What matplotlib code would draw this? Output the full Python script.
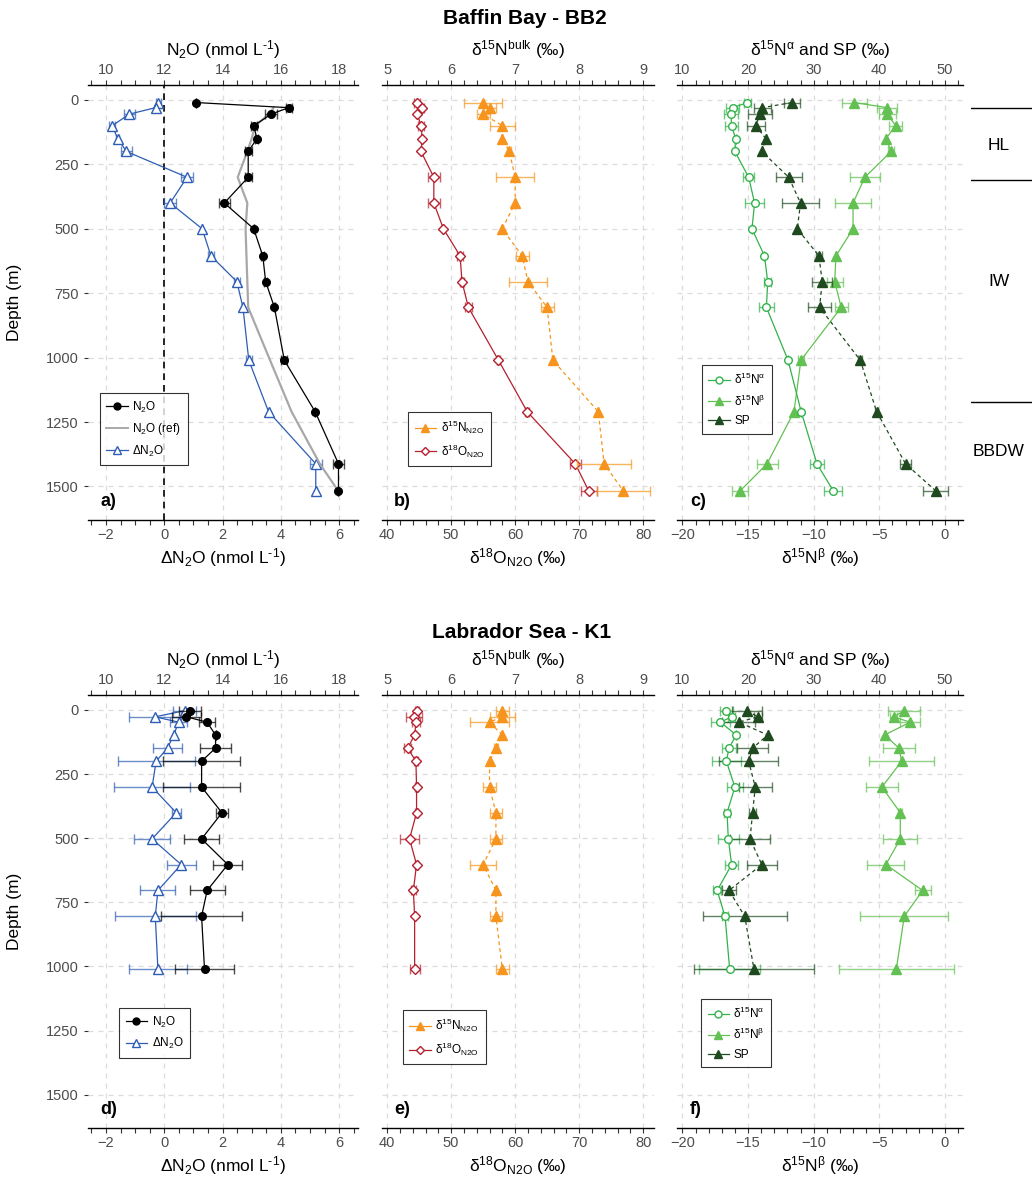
"""
N2O concentration and isotope depth profiles, Baffin Bay (BB2) and Labrador Sea (K1).
"""
import matplotlib
matplotlib.use("Agg")
import matplotlib.pyplot as plt
from matplotlib.lines import Line2D
from matplotlib.ticker import MultipleLocator

plt.rcParams["font.family"] = ["Liberation Sans", "DejaVu Sans"]
plt.rcParams["mathtext.fontset"] = "custom"
plt.rcParams["mathtext.rm"] = "Liberation Sans"
plt.rcParams["mathtext.it"] = "Liberation Sans:italic"
plt.rcParams["mathtext.bf"] = "Liberation Sans:bold"

# ---- Baffin Bay - BB2 ----
bb2_depth = [10, 30, 55, 100, 150, 200, 300, 400, 500, 605, 705, 805, 1010, 1210, 1412, 1517]
bb2_n2o = [13.08, 16.27, 15.67, 15.07, 15.18, 14.88, 14.88, 14.06, 15.07, 15.38, 15.48, 15.78,
           16.12, 17.18, 17.98, 17.98]
bb2_n2o_err = [0, 0.1, 0.2, 0.1, 0.05, 0.12, 0.12, 0.18, 0, 0.05, 0.06, 0.03, 0.1, 0, 0.2, 0]
bb2_ref_depth = [30, 55, 100, 150, 200, 300, 400, 500, 605, 705, 805, 1010, 1210, 1412, 1517]
bb2_ref = [15.75, 15.6, 15.12, 15.0, 14.85, 14.52, 14.85, 14.79, 14.82, 14.85, 14.88,
           15.63, 16.37, 17.34, 17.97]
bb2_dn2o = [-0.2, -0.3, -1.2, -1.79, -1.6, -1.3, 0.78, 0.2, 1.3, 1.6, 2.49, 2.7, 2.9, 3.58, 5.2, 5.2]
bb2_dn2o_err = [0.1, 0, 0.2, 0.1, 0.05, 0.2, 0.2, 0.2, 0, 0.1, 0.1, 0, 0.1, 0, 0.2, 0]
bb2_d15n = [6.50, 6.60, 6.50, 6.80, 6.80, 6.91, 7.0, 7.0, 6.80, 7.11, 7.2, 7.5, 7.59, 8.30, 8.39, 8.69]
bb2_d15n_err = [0.3, 0.1, 0.1, 0.2, 0, 0.03, 0.3, 0, 0, 0.1, 0.3, 0.1, 0.02, 0, 0.42, 0.41]
bb2_d18o = [44.7, 45.5, 44.7, 45.3, 45.5, 45.3, 47.3, 47.3, 48.8, 51.4, 51.7, 52.7, 57.4, 61.9, 69.4, 71.5]
bb2_d18o_err = [0.5, 0.3, 0, 0.5, 0, 0, 0.9, 0.9, 0, 0.5, 0.3, 0.5, 0.3, 0.3, 0.9, 1.25]
bb2_alpha = [19.9, 17.7, 17.4, 17.5, 18.1, 18.0, 20.1, 21.0, 20.6, 22.5, 23.0, 22.8, 26.1, 28.1, 30.5, 33.0]
bb2_alpha_err = [0.5, 1.0, 1.0, 1.0, 0, 0, 0.8, 1.5, 0, 0, 0.5, 1.2, 0, 0, 1.0, 1.35]
bb2_beta = [-6.9, -4.4, -4.4, -3.75, -4.5, -4.1, -6.1, -7.0, -7.0, -8.3, -8.4, -7.9, -10.97, -11.5,
            -13.55, -15.6]
bb2_beta_err = [0.95, 0.75, 0.65, 0.5, 0, 0.25, 1.15, 1.4, 0, 0, 0.6, 0.5, 0.25, 0, 0.8, 0.6]
bb2_sp = [26.7, 22.2, 21.8, 21.2, 22.7, 22.1, 26.2, 28.0, 27.5, 30.8, 31.3, 30.9, 37.1, 39.6, 44.0, 48.6]
bb2_sp_err = [1.15, 1.3, 1.8, 1.35, 0, 0, 2.0, 2.85, 0, 0.5, 1.5, 1.8, 0.3, 0.2, 0.8, 1.9]

# water masses at BB2
mass_bounds = [32, 310, 1173]
mass_names = ["HL", "IW", "BBDW"]
mass_label_depth = [175, 705, 1365]

# ---- Labrador Sea - K1 ----
k1_depth = [3, 27, 48, 98, 149, 200, 301, 401, 503, 603, 704, 805, 1010]
k1_n2o = [12.87, 12.76, 13.47, 13.76, 13.76, 13.28, 13.28, 13.98, 13.28, 14.18, 13.47, 13.28, 13.38]
k1_n2o_err = [0.38, 0.5, 0.28, 0, 0.52, 1.32, 1.32, 0.2, 0.61, 0.5, 0.6, 1.4, 1.0]
k1_dn2o = [0.7, -0.31, 0.49, 0.32, 0.11, -0.28, -0.42, 0.41, -0.42, 0.58, -0.22, -0.31, -0.22]
k1_dn2o_err = [0.4, 0.89, 0.3, 0, 0.49, 1.32, 1.3, 0.15, 0.61, 0.5, 0.6, 1.39, 1.0]
k1_d15n = [6.80, 6.80, 6.60, 6.80, 6.70, 6.60, 6.60, 6.70, 6.70, 6.50, 6.70, 6.70, 6.80]
k1_d15n_err = [0.1, 0.2, 0.3, 0, 0.03, 0, 0.1, 0.1, 0.1, 0.2, 0, 0.1, 0.1]
k1_d18o = [44.7, 44.2, 44.5, 44.3, 43.2, 44.5, 44.6, 44.6, 43.5, 44.6, 44.1, 44.3, 44.3]
k1_d18o_err = [0.3, 1.2, 0.6, 0, 0.5, 0.3, 0.2, 0.3, 1.5, 0.3, 0.4, 0, 0.8]
k1_alpha = [16.7, 17.5, 15.8, 18.2, 17.1, 16.7, 18.0, 16.8, 17.0, 17.5, 15.3, 16.5, 17.2]
k1_alpha_err = [1.0, 0.5, 1.4, 0, 1.1, 2.2, 1.2, 0.4, 1.6, 1.0, 0.6, 0.5, 4.6]
k1_beta = [-3.1, -3.9, -2.65, -4.6, -3.5, -3.3, -4.8, -3.4, -3.4, -4.5, -1.7, -3.1, -3.7]
k1_beta_err = [1.2, 0.25, 0.75, 0, 1.2, 2.5, 1.2, 0.15, 1.3, 1.4, 0.6, 3.35, 4.4]
k1_sp = [19.8, 21.5, 18.6, 23.0, 20.7, 20.1, 21.1, 20.7, 20.3, 22.1, 17.1, 19.5, 20.9]
k1_sp_err = [2.3, 0.6, 2.5, 0, 2.4, 4.5, 2.5, 0.5, 3.0, 2.3, 1.0, 6.4, 9.1]

depth_ticks = [0, 250, 500, 750, 1000, 1250, 1500]

C_N2O = "black"
C_REF = "#a8a8a8"
C_DN2O = "#2d5db4"
C_D15N = "#f7941d"
C_D18O = "#b5202e"
C_ALPHA = "#33b24b"
C_BETA = "#62c152"
C_SP = "#1f4a1f"
TICK_C = "#4d4d4d"

W, H = 1032, 1178
YLIM = (1630, -58)

LBL_N2O = "N$_2$O (nmol L$^{\\mathrm{‐1}}$)"
LBL_DN2O = "ΔN$_2$O (nmol L$^{\\mathrm{‐1}}$)"


def px_axes(fig, x0, x1, y0, y1):
    return fig.add_axes([x0 / W, 1 - y1 / H, (x1 - x0) / W, (y1 - y0) / H])


def profile(ax, x, depth, err, color, marker, ls, open_marker=False, ms=6):
    ax.errorbar(x, depth, xerr=err, fmt="none", ecolor=color, alpha=0.7,
                elinewidth=1.0, capsize=3.6, capthick=1.0, zorder=3)
    ax.plot(x, depth, color=color, ls=ls, lw=0.9, marker=marker, ms=ms,
            mfc="white" if open_marker else color, mec=color, mew=1.0, zorder=4)


def proxy(color, marker, open_marker=False, ms=6, lw=0.9):
    return Line2D([], [], color=color, lw=lw, marker=marker, ms=ms,
                  mfc="white" if open_marker else color, mec=color)


def style(ax, axt, xlim, top_lim, bottom_major, bottom_minor, top_major, top_minor,
          show_depth, label, top_label, bottom_label):
    ax.set_ylim(*YLIM)
    ax.set_xlim(*xlim)
    axt.set_xlim(*top_lim)
    ax.xaxis.set_major_locator(MultipleLocator(bottom_major))
    ax.xaxis.set_minor_locator(MultipleLocator(bottom_minor))
    axt.xaxis.set_major_locator(MultipleLocator(top_major))
    axt.xaxis.set_minor_locator(MultipleLocator(top_minor))
    ax.set_yticks(depth_ticks)
    ax.grid(True, which="major", color="#dcdcdc", ls=(0, (4, 4)), lw=0.9)
    ax.set_axisbelow(True)
    for s in ("top", "left", "right"):
        ax.spines[s].set_visible(False)
    for s in ("bottom", "left", "right"):
        axt.spines[s].set_visible(False)
    ax.spines["bottom"].set_linewidth(1.0)
    axt.spines["top"].set_linewidth(1.0)
    for a in (ax, axt):
        a.tick_params(axis="x", which="both", direction="out", length=3.5, width=0.8,
                      color="#333333", labelcolor=TICK_C, labelsize=10.5, pad=2.5)
    axt.tick_params(axis="y", left=False, labelleft=False, right=False, labelright=False)
    if show_depth:
        ax.tick_params(axis="y", length=3, color="#333333", labelcolor=TICK_C, labelsize=10.5)
        ax.set_ylabel("Depth (m)", fontsize=12.5)
        ax.yaxis.set_label_coords(-0.245, 0.5)
    else:
        ax.tick_params(axis="y", length=0, labelleft=False)
    axt.set_xlabel(top_label, fontsize=12.5, labelpad=5)
    ax.set_xlabel(bottom_label, fontsize=12.5, labelpad=3)
    ax.text(0.045, 0.022, label, transform=ax.transAxes, fontsize=13,
            fontweight="bold", va="bottom", ha="left")


def legend(axt, handles, labels, x, y):
    leg = axt.legend(handles, labels, loc="upper left", bbox_to_anchor=(x, y),
                     fontsize=8.5, frameon=True, fancybox=False, edgecolor="black",
                     handlelength=1.8, handletextpad=0.4, labelspacing=0.55,
                     borderpad=0.55, borderaxespad=0)
    leg.get_frame().set_linewidth(0.8)
    leg.set_zorder(10)


def panel_n2o(fig, y0, y1, depth, n2o, n2o_err, dn2o, dn2o_err, label,
              ref_depth=None, ref=None, legxy=(0.04, 0.29)):
    ax = px_axes(fig, 88, 358, y0, y1)
    axt = ax.twiny()
    if ref is not None:
        ax.axvline(0, color="black", ls=(0, (4, 3)), lw=1.2, zorder=2)
        axt.plot(ref, ref_depth, color=C_REF, lw=1.6, zorder=3)
    profile(axt, n2o, depth, n2o_err, C_N2O, "o", "-", ms=5.5)
    profile(ax, dn2o, depth, dn2o_err, C_DN2O, "^", "-", open_marker=True, ms=6.5)
    style(ax, axt, (-2.62, 6.65), (9.38, 18.65), 2, 0.5, 2, 0.5, True, label,
          LBL_N2O, LBL_DN2O)
    handles = [proxy(C_N2O, "o", ms=5)]
    labels = ["N$_2$O"]
    if ref is not None:
        handles.append(Line2D([], [], color=C_REF, lw=1.4))
        labels.append("N$_2$O (ref)")
    handles.append(proxy(C_DN2O, "^", open_marker=True))
    labels.append("ΔN$_2$O")
    legend(axt, handles, labels, *legxy)
    return ax


def panel_bulk(fig, y0, y1, depth, d15n, d15n_err, d18o, d18o_err, label, legxy):
    ax = px_axes(fig, 382, 654, y0, y1)
    axt = ax.twiny()
    profile(axt, d15n, depth, d15n_err, C_D15N, "^", (0, (3, 2.5)), ms=6.5)
    profile(ax, d18o, depth, d18o_err, C_D18O, "D", "-", open_marker=True, ms=5.5)
    style(ax, axt, (39.2, 81.7), (4.92, 9.17), 10, 2, 1, 0.2, False, label,
          "δ$^{15}$N$^{\\mathrm{bulk}}$ (‰)", "δ$^{18}$O$_{\\mathrm{N2O}}$ (‰)")
    legend(axt, [proxy(C_D15N, "^"), proxy(C_D18O, "D", open_marker=True, ms=4.5)],
           ["δ$^{15}$N$_{\\mathrm{N2O}}$", "δ$^{18}$O$_{\\mathrm{N2O}}$"], *legxy)
    return ax


def panel_sp(fig, y0, y1, depth, alpha, alpha_err, beta, beta_err, sp, sp_err, label, legxy):
    ax = px_axes(fig, 677, 963, y0, y1)
    axt = ax.twiny()
    profile(axt, alpha, depth, alpha_err, C_ALPHA, "o", "-", open_marker=True, ms=5.5)
    profile(ax, beta, depth, beta_err, C_BETA, "^", "-", ms=6.5)
    profile(axt, sp, depth, sp_err, C_SP, "^", (0, (3, 2.5)), ms=6.5)
    style(ax, axt, (-20.41, 1.375), (9.18, 52.75), 5, 1, 10, 2, False, label,
          "δ$^{15}$N$^{\\mathrm{α}}$ and SP (‰)", "δ$^{15}$N$^{\\mathrm{β}}$ (‰)")
    legend(axt, [proxy(C_ALPHA, "o", open_marker=True, ms=5), proxy(C_BETA, "^"),
                 proxy(C_SP, "^")],
           ["δ$^{15}$N$^{\\mathrm{α}}$", "δ$^{15}$N$^{\\mathrm{β}}$", "SP"], *legxy)
    return ax


def main():
    fig = plt.figure(figsize=(W / 100, H / 100), dpi=100)

    # top row: Baffin Bay
    fig.text(525 / W, 1 - 18 / H, "Baffin Bay - BB2", ha="center", va="center",
             fontsize=15, fontweight="bold")
    panel_n2o(fig, 85, 520, bb2_depth, bb2_n2o, bb2_n2o_err, bb2_dn2o, bb2_dn2o_err, "a)",
              ref_depth=bb2_ref_depth, ref=bb2_ref, legxy=(0.044, 0.292))
    panel_bulk(fig, 85, 520, bb2_depth, bb2_d15n, bb2_d15n_err, bb2_d18o, bb2_d18o_err,
               "b)", (0.096, 0.248))
    panel_sp(fig, 85, 520, bb2_depth, bb2_alpha, bb2_alpha_err, bb2_beta, bb2_beta_err,
             bb2_sp, bb2_sp_err, "c)", (0.087, 0.356))

    # water mass annotation on the right
    axm = px_axes(fig, 971, 1032, 85, 520)
    axm.set_ylim(*YLIM)
    axm.set_xlim(0, 1)
    axm.axis("off")
    for d in mass_bounds:
        axm.axhline(d, color="black", lw=1.0)
    for name, d in zip(mass_names, mass_label_depth):
        axm.text(0.46, d, name, ha="center", va="center", fontsize=12.5)

    # bottom row: Labrador Sea
    fig.text(522 / W, 1 - 632 / H, "Labrador Sea - K1", ha="center", va="center",
             fontsize=15, fontweight="bold")
    panel_n2o(fig, 695, 1128, k1_depth, k1_n2o, k1_n2o_err, k1_dn2o, k1_dn2o_err, "d)",
              legxy=(0.115, 0.277))
    panel_bulk(fig, 695, 1128, k1_depth, k1_d15n, k1_d15n_err, k1_d18o, k1_d18o_err,
               "e)", (0.077, 0.272))
    panel_sp(fig, 695, 1128, k1_depth, k1_alpha, k1_alpha_err, k1_beta, k1_beta_err,
             k1_sp, k1_sp_err, "f)", (0.084, 0.298))

    fig.savefig("out.png", dpi=100)


if __name__ == "__main__":
    main()
